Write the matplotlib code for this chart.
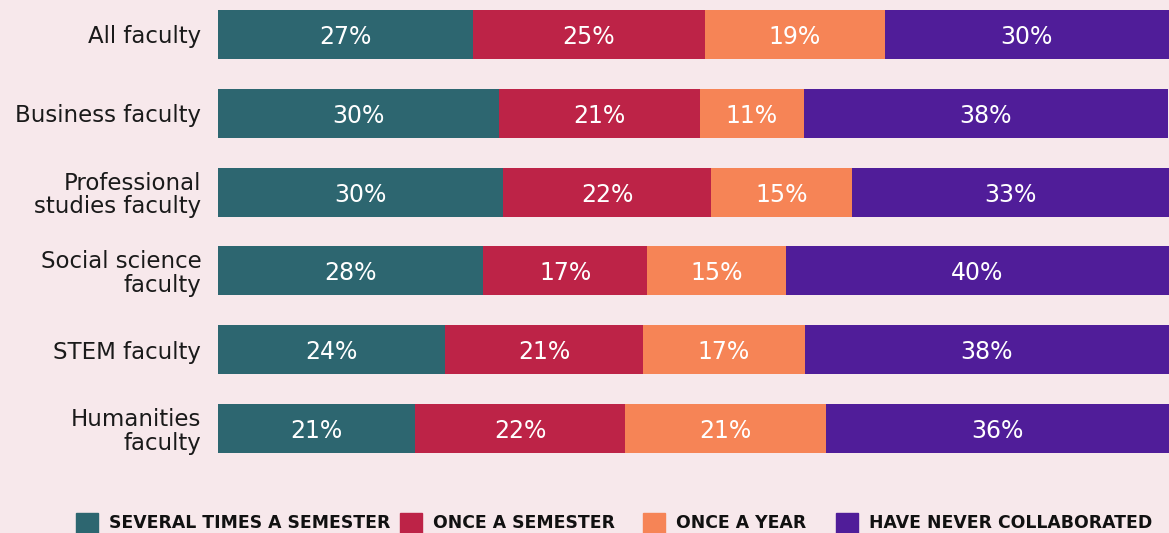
import matplotlib
matplotlib.use("Agg")
import matplotlib.pyplot as plt
from matplotlib.patches import Rectangle

categories = ["All faculty", "Business faculty", "Professional\nstudies faculty",
              "Social science\nfaculty", "STEM faculty", "Humanities\nfaculty"]
series_names = ["SEVERAL TIMES A SEMESTER", "ONCE A SEMESTER", "ONCE A YEAR",
                "HAVE NEVER COLLABORATED"]
colors = ["#2D6670", "#BD2347", "#F68456", "#501D99"]

# estimated shares (bar widths)
several = [26.8, 29.5, 30.0, 27.9, 23.9, 20.7]
once_sem = [24.4, 21.2, 21.8, 17.2, 20.8, 22.1]
once_year = [18.9, 10.9, 14.9, 14.6, 17.0, 21.1]
never = [29.9, 38.3, 33.3, 40.3, 38.3, 36.1]

# printed labels
lab_several = [27, 30, 30, 28, 24, 21]
lab_once_sem = [25, 21, 22, 17, 21, 22]
lab_once_year = [19, 11, 15, 15, 17, 21]
lab_never = [30, 38, 33, 40, 38, 36]

series = [several, once_sem, once_year, never]
labels = [lab_several, lab_once_sem, lab_once_year, lab_never]

BG = "#F7E8EB"
W, H = 1169, 533
fig = plt.figure(figsize=(W / 100, H / 100), dpi=100, facecolor=BG)
ax = fig.add_axes([218 / W, 70 / H, (1169 - 218) / W, 463 / H])
ax.set_facecolor(BG)

font = "DejaVu Sans"
y = list(range(len(categories)))
left = [0.0] * len(categories)
for vals, labs, c in zip(series, labels, colors):
    ax.barh(y, vals, left=left, height=0.62, color=c, edgecolor="none")
    for yi, l, v, lab in zip(y, left, vals, labs):
        ax.text(l + v / 2, yi, f"{lab}%", ha="center", va="center_baseline",
                color="white", fontsize=17, family=font)
    left = [a + b for a, b in zip(left, vals)]

total = max(left)
ax.set_xlim(0, total)
ax.set_ylim(5 + 34.5 / 79, -34.5 / 79)
ax.set_yticks(y)
ax.set_yticklabels(categories, fontsize=16.5, family=font, color="#1a1a1a",
                   linespacing=1.05)
ax.tick_params(axis="y", length=0, pad=12)
ax.set_xticks([])
for s in ax.spines.values():
    s.set_visible(False)

# legend
leg_x = [76, 400, 643, 836]
for xpx, name, c in zip(leg_x, series_names, colors):
    fig.patches.append(Rectangle((xpx / W, 0), 22 / W, (533 - 513) / H,
                                 transform=fig.transFigure, color=c,
                                 edgecolor="none"))
    fig.text((xpx + 33) / W, (533 - 523.5) / H, name, ha="left", va="center",
             fontsize=12.4, family="DejaVu Sans", weight="bold", color="#111111")

fig.savefig("out.png", dpi=100, facecolor=BG)
